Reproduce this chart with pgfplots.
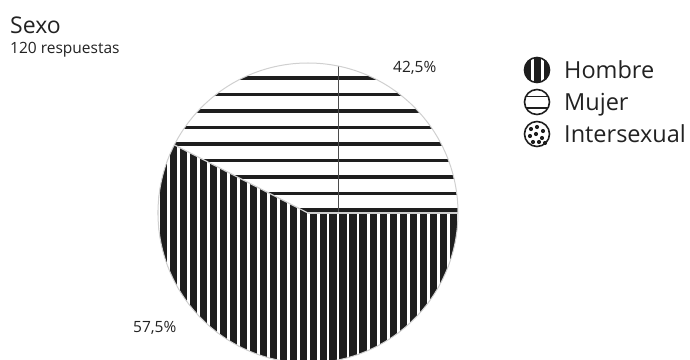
\documentclass[border=0pt]{standalone}
\usepackage{fontspec}
\setmainfont{Open Sans}
\usepackage{pgfplots}
\usepackage{pgfplotstable}
\pgfplotsset{compat=1.18}
\definecolor{txt}{HTML}{222222}
\definecolor{ink}{HTML}{1E1E1E}
\definecolor{rim}{HTML}{D0D0D0}

\pgfplotstableread{
label value
Hombre 57.5
Mujer 42.5
Intersexual 0
}\sexdata
\pgfplotstablegetelem{0}{value}\of\sexdata \let\vH\pgfplotsretval
\pgfplotstablegetelem{1}{value}\of\sexdata \let\vM\pgfplotsretval
\pgfmathsetmacro\aM{3.6*\vM}

\begin{document}
\begin{tikzpicture}
\begin{axis}[
  at={(0,0)}, anchor=south west,
  width=690bp, height=360bp, scale only axis,
  xmin=0, xmax=690, ymin=0, ymax=360,
  axis lines=none, clip=false,
]
\coordinate (C) at (axis cs:308,147);
% Mujer slice
\fill[white]
  (axis cs:308,147) -- ++(0:150bp) arc[start angle=0,end angle=\aM,radius=150bp] -- cycle;
% Hombre slice
\fill[ink]
  (axis cs:308,147) -- ++(\aM:150bp) arc[start angle=\aM,end angle=360,radius=150bp] -- cycle;
% labels
\node[anchor=base west, inner sep=0pt, text=txt, font=\fontsize{15.5bp}{18bp}\selectfont] at (axis cs:393,288) {42,5\%};
\node[anchor=base west, inner sep=0pt, text=txt, font=\fontsize{15.5bp}{18bp}\selectfont] at (axis cs:133,28) {57,5\%};
% title
\node[anchor=base west, inner sep=0pt, text=txt, font=\fontsize{23bp}{26bp}\selectfont] at (axis cs:10,327) {Sexo};
\node[anchor=base west, inner sep=0pt, text=txt, font=\fontsize{15.5bp}{18bp}\selectfont] at (axis cs:10,307) {120 respuestas};
% legend text
\node[anchor=base west, inner sep=0pt, text=txt, font=\fontsize{23.5bp}{27bp}\selectfont] at (axis cs:564,282) {Hombre};
\node[anchor=base west, inner sep=0pt, text=txt, font=\fontsize{23.5bp}{27bp}\selectfont] at (axis cs:564,250) {Mujer};
\node[anchor=base west, inner sep=0pt, text=txt, font=\fontsize{23.5bp}{27bp}\selectfont] at (axis cs:564,218) {Intersexual};
% legend icons
\fill[ink] (axis cs:537,290) circle[radius=13bp];
\fill[white] (axis cs:532,290) ++(-1.5bp,-14bp) rectangle ++(3bp,28bp);
\fill[white] (axis cs:542,290) ++(-1.5bp,-14bp) rectangle ++(3bp,28bp);
\draw[ink, line width=1.6bp] (axis cs:537,290) circle[radius=12.5bp];
\fill[white] (axis cs:537,258) circle[radius=13bp];
\fill[ink] (axis cs:537,258) ++(-11bp,4.5bp) rectangle ++(22bp,1.8bp);
\fill[ink] (axis cs:537,258) ++(-11bp,-7.5bp) rectangle ++(22bp,2.8bp);
\draw[ink, line width=1.6bp] (axis cs:537,258) circle[radius=12.5bp];
\draw[ink, line width=1.6bp] (axis cs:537,226) circle[radius=12.5bp];
\fill[ink] (axis cs:531,231) circle[radius=2.1bp];
\fill[ink] (axis cs:537,233) circle[radius=2.1bp];
\fill[ink] (axis cs:543,229) circle[radius=2.1bp];
\fill[ink] (axis cs:530,224) circle[radius=2.1bp];
\fill[ink] (axis cs:536,226) circle[radius=2.1bp];
\fill[ink] (axis cs:542,222) circle[radius=2.1bp];
\fill[ink] (axis cs:533,218) circle[radius=2.1bp];
\fill[ink] (axis cs:539,218) circle[radius=2.1bp];
\fill[ink] (axis cs:545,217) circle[radius=2.1bp];
\end{axis}
% hatching of the Mujer slice: horizontal black lines
\begin{scope}
\clip (C) -- ++(0:150bp) arc[start angle=0,end angle=\aM,radius=150bp] -- cycle;
\foreach \k in {0,...,9}
  \fill[ink] (150bp,{150bp+16.5bp*\k-1.75bp}) rectangle (470bp,{150bp+16.5bp*\k+1.75bp});
\draw[ink!80, line width=0.6bp] (338bp,147bp) -- (338bp,300bp);
\end{scope}
% hatching of the Hombre slice: white gaps between black bars
\begin{scope}
\clip (C) -- ++(\aM:150bp) arc[start angle=\aM,end angle=360,radius=150bp] -- cycle;
\foreach \k in {15,...,46}{
  \pgfmathsetmacro\gx{8+10*\k}
  \pgfmathsetmacro\gw{(\gx>325 && \gx<360) ? 0.6 : 1.5}
  \fill[white] ({(\gx-\gw)*1bp},-10bp) rectangle ({(\gx+\gw)*1bp},300bp);
}
\end{scope}
% borders
\draw[rim, line width=1.2bp] (C) -- ++(0:150bp);
\draw[rim, line width=1.2bp] (C) -- ++(\aM:150bp);
\draw[rim, line width=1bp] (C) circle[radius=150bp];
\pgfresetboundingbox
\useasboundingbox (0,0) rectangle (690bp,360bp);
\end{tikzpicture}
\end{document}
